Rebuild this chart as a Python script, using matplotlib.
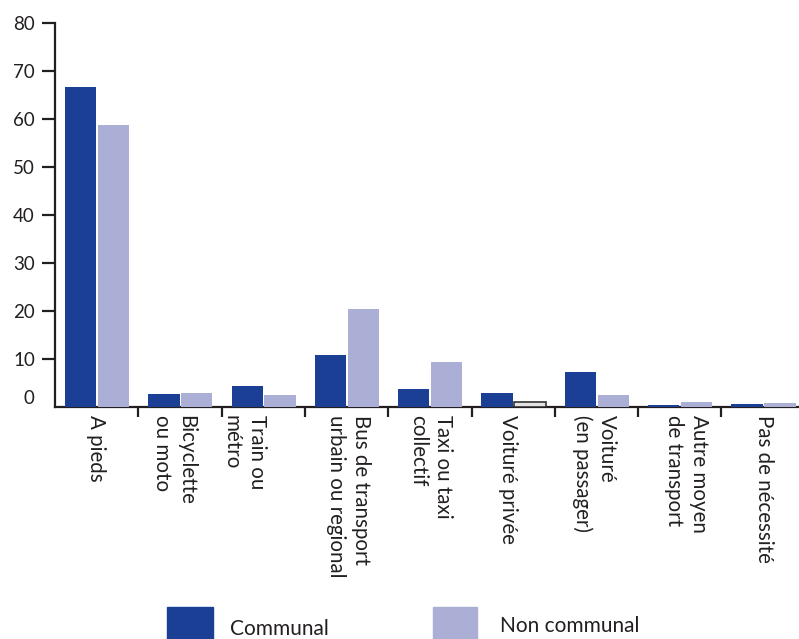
import matplotlib
matplotlib.use("Agg")
import matplotlib.pyplot as plt
from matplotlib.patches import Rectangle
import matplotlib.transforms as mtransforms
import numpy as np

plt.rcParams['font.family'] = ['Lato', 'DejaVu Sans']

categories = ["A pieds", "Bicyclette\nou moto", "Train ou\nmétro",
              "Bus de transport\nurbain ou regional", "Taxi ou taxi\ncollectif",
              "Voituré privée", "Voituré\n(en passager)", "Autre moyen\nde transport",
              "Pas de nécessité"]
communal = [66.5, 2.6, 4.3, 10.7, 3.6, 2.8, 7.2, 0.4, 0.6]
non_communal = [58.6, 2.8, 2.4, 20.3, 9.3, 0.9, 2.4, 0.9, 0.7]
series_names = ["Communal", "Non communal"]
y_ticks = [0, 10, 20, 30, 40, 50, 60, 70, 80]
# small horizontal nudges (pixels) of the category labels, as in the original layout
label_dx_px = [-1, -6, -19, 2, 1, -5, -2, 7, 1]

c_dark = "#1b3f94"
c_light = "#abafd5"
c_axis = "#231f20"

W, H = 799, 639
fig = plt.figure(figsize=(W / 100, H / 100), dpi=100)
ax_left, ax_bottom, ax_top = 55 / W, (H - 406.5) / H, (H - 22.7) / H
ax = fig.add_axes([ax_left, ax_bottom, 1 - ax_left, ax_top - ax_bottom])

n = len(categories)
x = np.arange(n)
bw = 0.375
b1 = ax.bar(x + 0.12, communal, width=bw, align='edge', color=c_dark, zorder=4)
b2 = ax.bar(x + 0.515, non_communal, width=bw, align='edge', color=c_light, zorder=4)
# "Voituré privée" non-communal bar drawn in light grey with outline
b2[5].set_facecolor("#e3e3e3")
b2[5].set_edgecolor("#333333")
b2[5].set_linewidth(1.2)

ax.set_xlim(0, (W - 55) / 83.3)
ax.set_ylim(0, 80)

for s in ["top", "right"]:
    ax.spines[s].set_visible(False)
for s in ["left", "bottom"]:
    ax.spines[s].set_color(c_axis)
    ax.spines[s].set_linewidth(1.6)
    ax.spines[s].set_zorder(3)

ax.set_yticks(y_ticks)
ax.set_yticklabels([str(v) for v in y_ticks])
ax.tick_params(axis='y', which='major', length=9.5, width=1.6, color=c_axis,
               labelsize=13.5, pad=5, labelcolor="#231f20")
yt = ax.yaxis.get_major_ticks()
yt[0].tick1line.set_visible(False)
off = mtransforms.ScaledTranslation(0, 10 / 100, fig.dpi_scale_trans)
yt[0].label1.set_transform(yt[0].label1.get_transform() + off)

# category boundary ticks
ax.set_xticks(np.arange(1, n))
ax.set_xticklabels([])
ax.tick_params(axis='x', which='major', length=7.5, width=1.6, color=c_axis)
# category labels at centers
ax.set_xticks(x + 0.5, minor=True)
ax.set_xticklabels(categories, minor=True, rotation=270, fontsize=14.8,
                   color="#231f20", linespacing=1.3)
ax.tick_params(axis='x', which='minor', length=0, pad=6)
for lab, dx in zip(ax.get_xticklabels(minor=True), label_dx_px):
    lab.set_multialignment('left')
    lab.set_va('top')
    lab.set_ha('center')
    lab.set_transform(lab.get_transform()
                      + mtransforms.ScaledTranslation(dx / 100, 0, fig.dpi_scale_trans))

# legend
fig.add_artist(Rectangle((167 / W, 0), 46 / W, (H - 607) / H,
                         transform=fig.transFigure, color=c_dark))
fig.add_artist(Rectangle((433 / W, 0), 44 / W, (H - 607) / H,
                         transform=fig.transFigure, color=c_light))
fig.text(230 / W, (H - 635) / H, series_names[0], fontsize=15, va='baseline',
         ha='left', color="#231f20")
fig.text(500 / W, (H - 631.5) / H, series_names[1], fontsize=15, va='baseline',
         ha='left', color="#231f20")

fig.savefig("out.png", dpi=100)
